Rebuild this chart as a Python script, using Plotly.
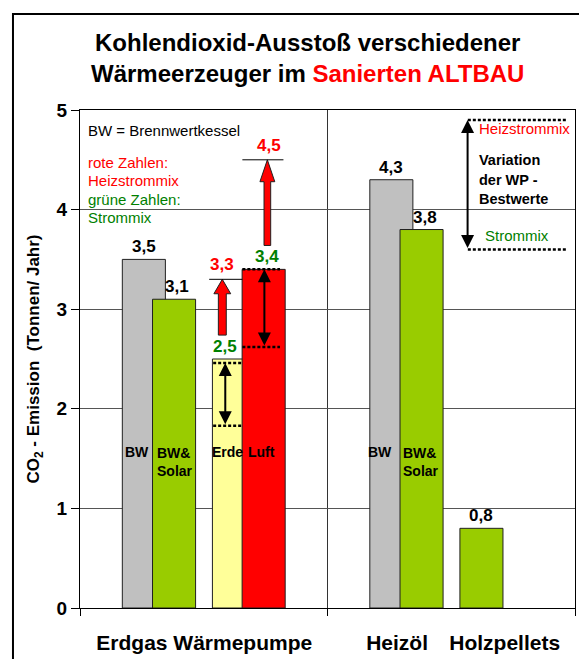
import plotly.graph_objects as go

# ---------------- data ----------------
bw_vals = [3.5, 4.3]          # Brennwertkessel (grau)
bw_solar_vals = [3.1, 3.8]    # BW & Solar (grün)
third_vals = [2.5, 0.8]       # WP Erde (gelb) / Holzpellets (grün)
luft_vals = [3.4, None]       # WP Luft (rot)
heiz_vals = [3.3, 4.5]        # Heizstrommix-Werte (Erde, Luft)
strom_low = [1.83, 2.62]      # untere Enden der Strommix-Variation (Erde, Luft)
strom_high = [2.46, 3.4]      # obere Enden der Strommix-Variation (Erde, Luft)
legend_range = [3.6, 4.9]     # Variation der WP-Bestwerte (Legende rechts)
cat_labels = ["Erdgas Wärmepumpe", "Heizöl", "Holzpellets"]
y_ticks = [0, 1, 2, 3, 4, 5]

# ---------------- styles ----------------
GRAY, GREEN, YELLOW, RED = "#C0C0C0", "#99CC00", "#FFFF99", "#FF0000"
DGREEN = "#008000"
FONT = "Liberation Sans, Arial, sans-serif"
SLOT = [0.258, 0.380, 0.622, 0.742]   # bar centre offsets within a group
W = 0.174                             # bar width (x units)
LABEL_X = [0.502, 1.281, 1.716]


def fmt(v):
    return f"{v:.1f}".replace(".", ",")


series = [
    (bw_vals, [GRAY, GRAY]),
    (bw_solar_vals, [GREEN, GREEN]),
    (third_vals, [YELLOW, GREEN]),
    (luft_vals, [RED, RED]),
]
label_colors = [["black", "black"], ["black", "black"], [DGREEN, "black"], [DGREEN, "black"]]
label_xshift = [[0, 0], [3, 3], [-9, 0], [3, 0]]

fig = go.Figure()
ann = []
for s, (vals, cols) in enumerate(series):
    xs = [g + SLOT[s] for g in range(len(vals))]
    fig.add_trace(go.Bar(x=xs, y=vals, width=W, marker=dict(color=cols, line=dict(color="#202020", width=1)),
                         showlegend=False, hoverinfo="skip"))
    for g, v in enumerate(vals):
        if v is None:
            continue
        ann.append(dict(x=xs[g], y=v, xref="x", yref="y", text=fmt(v), showarrow=False,
                        yanchor="bottom", yshift=1, xshift=label_xshift[s][g],
                        font=dict(family=FONT, size=17, color=label_colors[s][g], weight="bold")))

shapes = []
# Heizstrommix: red block arrows + level lines + red labels
arrow_cx = [0.575, 0.757]
arrow_hw = [0.016, 0.0135]
arrow_hh = [0.034, 0.030]
arrow_hl = [0.145, 0.22]
level_x = [(0.522, 0.656), (0.656, 0.822)]
base_vals = [third_vals[0], luft_vals[0]]
for i, hv in enumerate(heiz_vals):
    cx, hw, hh, hl = arrow_cx[i], arrow_hw[i], arrow_hh[i], arrow_hl[i]
    y0 = base_vals[i] + 0.24
    path = (f"M {cx-hw},{y0} L {cx-hw},{hv-hl} L {cx-hh},{hv-hl} L {cx},{hv} "
            f"L {cx+hh},{hv-hl} L {cx+hw},{hv-hl} L {cx+hw},{y0} Z")
    shapes.append(dict(type="path", path=path, xref="x", yref="y", fillcolor=RED,
                       line=dict(color="#202020", width=1)))
    shapes.append(dict(type="line", xref="x", yref="y", x0=level_x[i][0], x1=level_x[i][1],
                       y0=hv, y1=hv, line=dict(color="black", width=1)))
    ann.append(dict(x=cx + (0.0 if i == 0 else 0.008), y=hv, xref="x", yref="y", text=fmt(hv),
                    showarrow=False, yanchor="bottom", yshift=3,
                    font=dict(family=FONT, size=17, color=RED, weight="bold")))

# Strommix variation: dotted lines + double arrows
dot_x = [(0.538, 0.654), (0.656, 0.808)]
darrow_x = [0.587, 0.745]
for i in range(2):
    for yv in (strom_low[i], strom_high[i]):
        shapes.append(dict(type="line", xref="x", yref="y", x0=dot_x[i][0], x1=dot_x[i][1],
                           y0=yv, y1=yv, line=dict(color="black", width=2.5, dash="3px,2px")))
    ann.append(dict(x=darrow_x[i], y=strom_high[i], ax=darrow_x[i], ay=strom_low[i],
                    xref="x", yref="y", axref="x", ayref="y", text="", showarrow=True,
                    arrowhead=2, arrowside="end+start", arrowwidth=2, arrowsize=1.3,
                    arrowcolor="black"))

# right-hand legend of the variation
for yv in legend_range:
    shapes.append(dict(type="line", xref="x", yref="y", x0=1.567, x1=1.964, y0=yv, y1=yv,
                       line=dict(color="black", width=2.5, dash="3px,2px")))
ann.append(dict(x=1.566, y=legend_range[1], ax=1.566, ay=legend_range[0], xref="x", yref="y",
                axref="x", ayref="y", text="", showarrow=True, arrowhead=2, arrowside="end+start",
                arrowwidth=2, arrowsize=1.3, arrowcolor="black"))

def txt(x, y, s, color="black", size=15, bold=False, xanchor="left", yanchor="middle"):
    ann.append(dict(x=x, y=y, xref="x", yref="y", text=s, showarrow=False, xanchor=xanchor,
                    yanchor=yanchor, align="left",
                    font=dict(family=FONT, size=size, color=color, weight="bold" if bold else "normal")))

txt(1.605, 4.81, "Heizstrommix", RED)
txt(1.605, 4.50, "Variation", bold=True, size=14.5)
txt(1.605, 4.30, "der WP -", bold=True, size=14.5)
txt(1.605, 4.11, "Bestwerte", bold=True, size=14.5)
txt(1.630, 3.74, "Strommix", DGREEN)

# top-left notes
txt(0.026, 4.79, "BW = Brennwertkessel")
txt(0.026, 4.47, "rote Zahlen:", RED)
txt(0.026, 4.29, "Heizstrommix", RED)
txt(0.026, 4.10, "grüne Zahlen:", DGREEN)
txt(0.026, 3.92, "Strommix", DGREEN)

# in-bar labels
txt(0.229, 1.57, "BW", bold=True, size=14, xanchor="center")
txt(0.304, 1.66, "BW&<br>Solar", bold=True, size=14, yanchor="top")
txt(0.524, 1.57, "Erde", bold=True, size=14)
txt(0.669, 1.57, "Luft", bold=True, size=14)
txt(1.154, 1.57, "BW", bold=True, size=14)
txt(1.296, 1.66, "BW&<br>Solar", bold=True, size=14, yanchor="top")

# title
ann.append(dict(x=0.4606, y=1.1044, xref="paper", yref="paper", showarrow=False,
                text="Kohlendioxid-Ausstoß verschiedener<br>Wärmeerzeuger im "
                     "<span style='color:#FF0000'>Sanierten ALTBAU</span>",
                xanchor="center", yanchor="middle",
                font=dict(family=FONT, size=24, color="black", weight="bold")))

# outer frame
shapes.append(dict(type="rect", xref="paper", yref="paper", x0=-0.1354, x1=1.2, y0=-0.3, y1=1.1928,
                   line=dict(color="black", width=2), layer="below"))

# the page body has an 8px margin: figure is 8px smaller, margins shifted accordingly
fig.update_layout(
    width=579, height=651,
    margin=dict(l=72, r=12, t=102, b=51, autoexpand=False),
    paper_bgcolor="white", plot_bgcolor="white",
    barmode="overlay",
    annotations=ann, shapes=shapes,
    font=dict(family=FONT, color="black"),
    xaxis=dict(range=[0, 2], tickmode="array", tickvals=LABEL_X, ticktext=cat_labels, ticks="",
               tickfont=dict(family=FONT, size=21, color="black", weight="bold"),
               ticklabelstandoff=16, automargin=False,
               showgrid=False, zeroline=False, showline=True, linecolor="black", linewidth=1,
               mirror=True,
               minor=dict(tickmode="linear", tick0=0, dtick=1, ticks="outside", ticklen=7,
                          tickcolor="black", tickwidth=1, showgrid=True, gridcolor="#333333",
                          gridwidth=1)),
    yaxis=dict(range=[0, 5], tickmode="array", tickvals=y_ticks, ticks="outside", ticklen=8,
               tickcolor="black", tickfont=dict(family=FONT, size=19, color="black", weight="bold"),
               showgrid=True, gridcolor="#555555", gridwidth=1, zeroline=False, automargin=False,
               showline=True, linecolor="black", linewidth=1, mirror=True,
               title=dict(text="CO<sub>2</sub> - Emission\u00a0\u00a0(Tonnen/ Jahr)", standoff=12,
                          font=dict(family=FONT, size=17, color="black", weight="bold"))),
)

fig.write_html("out.html")
